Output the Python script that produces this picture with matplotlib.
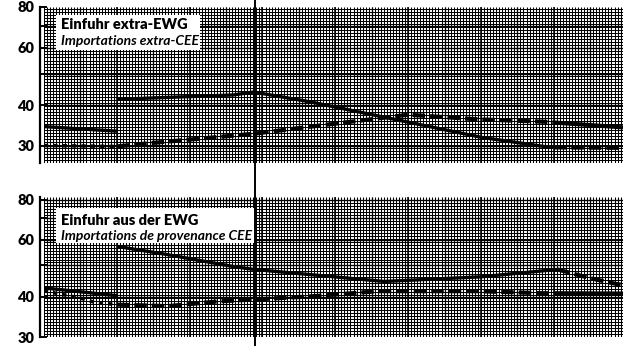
import matplotlib.pyplot as plt
import numpy as np
from matplotlib.patches import Rectangle
from matplotlib.lines import Line2D
from matplotlib.ticker import FixedLocator, NullLocator

plt.rcParams['font.family'] = ['Lato', 'DejaVu Sans']

# x is measured in years from the left edge of the graph paper
XMAX = 7.95

# Einfuhr extra-EWG / Importations extra-CEE
top_solid_a_x = [0.0, 1.0]
top_solid_a_y = [34.4, 33.3]
top_solid_b_x = [1.0, 2.6, 2.88, 3.67, 6.0, 6.86, 7.0]
top_solid_b_y = [41.7, 43.0, 43.9, 40.9, 31.9, 29.9, 29.7]
top_solid_c_x = [7.0, 7.95]
top_solid_c_y = [29.7, 29.6]
top_dash_a_x = [0.0, 1.0]
top_dash_a_y = [30.1, 29.9]
top_dash_b_x = [1.0, 1.32, 2.15, 2.88, 3.67, 5.0, 5.96, 6.86, 7.0]
top_dash_b_y = [29.9, 30.4, 31.6, 32.7, 34.4, 37.4, 36.2, 35.6, 35.4]
top_dash_c_x = [7.0, 7.95]
top_dash_c_y = [35.4, 34.2]

# Einfuhr aus der EWG / Importations de provenance CEE
bot_solid_a_x = [0.0, 1.0]
bot_solid_a_y = [42.6, 40.3]
bot_solid_b_x = [1.0, 1.7, 2.6, 2.88, 3.67, 4.67, 6.0, 7.05]
bot_solid_b_y = [57.3, 54.0, 49.6, 48.6, 46.8, 44.6, 46.1, 48.6]
bot_solid_c_x = [7.05, 7.49, 7.86, 7.95]
bot_solid_c_y = [48.6, 45.7, 43.8, 43.5]
bot_dash_a_x = [0.0, 0.5, 0.7, 1.0]
bot_dash_a_y = [41.7, 39.6, 38.4, 37.8]
bot_dash_b_x = [1.0, 1.7, 2.4, 2.88, 3.67, 4.59, 5.96, 6.86, 7.0]
bot_dash_b_y = [37.8, 37.4, 38.7, 39.2, 40.1, 41.6, 41.6, 41.0, 41.0]
bot_dash_c_x = [7.0, 7.95]
bot_dash_c_y = [41.0, 40.9]

tick_vals = [30, 40, 50, 60, 70, 80]
tick_text = ['30', '40', '', '60', '', '80']

MARK_X = 2.9  # vertical reference line through both panels

#-------------------------------------------------------------------------
# graph paper
#-------------------------------------------------------------------------

def draw_paper( ax, ymin, ymax ):
  ax.vlines( np.arange( 0, XMAX, 1/24 ), ymin, ymax, color='k', lw=0.75, zorder=1 )
  ax.vlines( np.arange( 0.5, XMAX, 1 ), ymin, ymax, color='k', lw=0.9, zorder=1 )
  ax.vlines( np.arange( 1, XMAX, 1 ), ymin, ymax, color='k', lw=1.1, zorder=1 )
  fine = np.exp( np.arange( np.log(ymin), np.log(ymax), 3/141 ) )
  ax.hlines( fine, 0, XMAX, color='k', lw=0.75, zorder=1 )
  major = [ v for v in tick_vals if ymin < v < ymax ]
  ax.hlines( major, 0, XMAX, color='k', lw=0.95, zorder=1 )

def setup( ax, ymin, ymax ):
  ax.set_yscale( 'log' )
  ax.set_xlim( 0, XMAX )
  ax.set_ylim( ymin, ymax )
  for s in ['top', 'right', 'bottom']:
    ax.spines[s].set_visible( False )
  ax.spines['left'].set_linewidth( 1.6 )
  ax.spines['left'].set_position( ('outward', 3) )
  ax.set_xticks( [] )
  ax.yaxis.set_major_locator( FixedLocator( tick_vals ) )
  ax.yaxis.set_minor_locator( NullLocator() )
  ax.set_yticklabels( tick_text )
  ax.tick_params( axis='y', direction='in', length=5, width=1.4, pad=4,
                  labelsize=10.5 )
  for lbl in ax.get_yticklabels():
    lbl.set_fontweight( 'heavy' )
  draw_paper( ax, ymin, ymax )

def label_box( ax, x0, y0, w, h, line1, line2, ty1, ty2 ):
  ax.add_patch( Rectangle( (x0, y0), w, h, transform=ax.transAxes,
                           facecolor='white', edgecolor='none', zorder=3 ) )
  ax.text( x0 + 0.009, ty1, line1, transform=ax.transAxes, fontsize=10.5,
           fontweight='heavy', va='center', zorder=4 )
  ax.text( x0 + 0.009, ty2, line2, transform=ax.transAxes, fontsize=10,
           fontweight='bold', style='italic', va='center', zorder=4 )

def plot_lines( ax, sa, sb, sc, da, db, dc ):
  solid = dict( color='k', lw=2.4, solid_capstyle='butt', zorder=5 )
  dashed = dict( color='k', lw=3.0, linestyle=(0, (3.0, 1.2)), zorder=5 )
  dotted = dict( color='k', lw=2.5, linestyle=(0, (1.2, 1.5)), zorder=5 )
  ax.plot( *sa, **solid )
  ax.plot( *sb, **solid )
  ax.plot( *sc, **dashed )
  ax.plot( *da, **dotted )
  ax.plot( *db, **dashed )
  ax.plot( *dc, **dict( solid, lw=3.0 ) )

fig = plt.figure( figsize=(6.23, 3.46), dpi=100 )
left = 44 / 623
width = 1 - left
ax1 = fig.add_axes( [left, 1 - 163/346, width, 156/346] )
ax2 = fig.add_axes( [left, 1 - 337/346, width, 140/346] )

setup( ax1, 26.6, 80.0 )
setup( ax2, 30.0, 81.5 )

plot_lines( ax1, (top_solid_a_x, top_solid_a_y), (top_solid_b_x, top_solid_b_y),
            (top_solid_c_x, top_solid_c_y), (top_dash_a_x, top_dash_a_y),
            (top_dash_b_x, top_dash_b_y), (top_dash_c_x, top_dash_c_y) )
plot_lines( ax2, (bot_solid_a_x, bot_solid_a_y), (bot_solid_b_x, bot_solid_b_y),
            (bot_solid_c_x, bot_solid_c_y), (bot_dash_a_x, bot_dash_a_y),
            (bot_dash_b_x, bot_dash_b_y), (bot_dash_c_x, bot_dash_c_y) )

label_box( ax1, 0.021, 0.724, 0.249, 0.225,
           'Einfuhr extra-EWG', 'Importations extra-CEE', 0.885, 0.785 )
label_box( ax2, 0.021, 0.671, 0.341, 0.25,
           'Einfuhr aus der EWG', 'Importations de provenance CEE', 0.83, 0.725 )

fx = left + MARK_X / XMAX * width
fig.add_artist( Line2D( [fx, fx], [0, 1], transform=fig.transFigure,
                        color='k', lw=1.4, zorder=6 ) )

fig.savefig( 'out.png', dpi=100 )
